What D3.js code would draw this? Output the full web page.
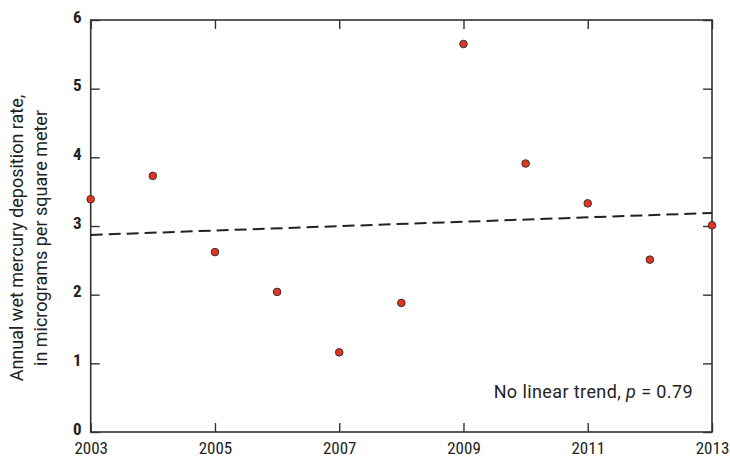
<!DOCTYPE html>
<html><head><meta charset="utf-8">
<script src="https://cdn.jsdelivr.net/npm/d3@7"></script>
<style>
body{margin:0;background:#fff;}
svg text{font-family:"Liberation Sans Narrow","Roboto Condensed","Arial Narrow",sans-serif;fill:#222;}
svg text.wide{font-family:Roboto,"Liberation Sans",sans-serif;}
</style></head>
<body>
<svg id="chart" width="730" height="456"></svg>
<script>
const years = [2003,2004,2005,2006,2007,2008,2009,2010,2011,2012,2013];
const deposition = [3.39,3.73,2.62,2.04,1.16,1.88,5.65,3.91,3.33,2.51,3.01];
const trendYears = [2003,2013];
const trendValues = [2.87,3.19];
const xTickValues = [2003,2005,2007,2009,2011,2013];
const yTickValues = [0,1,2,3,4,5,6];
const yTitle = ["Annual wet mercury deposition rate,","in micrograms per square meter"];
const note = "No linear trend, ";

const svg = d3.select("#chart");
const m = {left:90.7, right:712, top:20, bottom:432};
const x = d3.scaleLinear().domain([2003,2013]).range([m.left,m.right]);
const y = d3.scaleLinear().domain([0,6]).range([m.bottom,m.top]);
const ink = "#333";

// frame
svg.append("rect").attr("x",m.left).attr("y",m.top)
  .attr("width",m.right-m.left).attr("height",m.bottom-m.top)
  .attr("fill","none").attr("stroke",ink).attr("stroke-width",1.6);

// bottom axis
const gx = svg.append("g").attr("transform",`translate(0,${m.bottom})`)
  .call(d3.axisBottom(x).tickValues(xTickValues).tickFormat(d3.format("d")).tickSizeInner(-9).tickSizeOuter(0).tickPadding(10));
gx.select(".domain").remove();
gx.selectAll("line").attr("stroke",ink).attr("stroke-width",1.4);
gx.selectAll("text").attr("font-size",17).attr("fill","#222");

// top ticks
const gt = svg.append("g").attr("transform",`translate(0,${m.top})`)
  .call(d3.axisTop(x).tickValues(xTickValues).tickFormat("").tickSizeInner(-9).tickSizeOuter(0));
gt.select(".domain").remove();
gt.selectAll("line").attr("stroke",ink).attr("stroke-width",1.4);

// left axis
const gy = svg.append("g").attr("transform",`translate(${m.left},0)`)
  .call(d3.axisLeft(y).tickValues(yTickValues).tickFormat(d3.format("d")).tickSizeInner(-9).tickSizeOuter(0).tickPadding(9));
gy.select(".domain").remove();
gy.selectAll("line").attr("stroke",ink).attr("stroke-width",1.4);
gy.selectAll("text").attr("font-size",17).attr("font-weight","bold").attr("dy","0.12em").attr("fill","#222");

// right ticks
const gr = svg.append("g").attr("transform",`translate(${m.right},0)`)
  .call(d3.axisRight(y).tickValues(yTickValues).tickFormat("").tickSizeInner(-9).tickSizeOuter(0));
gr.select(".domain").remove();
gr.selectAll("line").attr("stroke",ink).attr("stroke-width",1.4);

// y title
const yt = svg.append("text").attr("class","wide").attr("transform","translate(23,238) rotate(-90)")
  .attr("text-anchor","middle").attr("font-size",18);
yt.selectAll("tspan").data(yTitle).join("tspan")
  .attr("x",0).attr("dy",(d,i)=>i===0?0:24).text(d=>d);

// trend line
svg.append("line")
  .attr("x1",x(trendYears[0])).attr("y1",y(trendValues[0]))
  .attr("x2",x(trendYears[1])).attr("y2",y(trendValues[1]))
  .attr("stroke","#222").attr("stroke-width",2).attr("stroke-dasharray","12,6");

// points
svg.append("g").selectAll("circle").data(years).join("circle")
  .attr("cx",(d)=>x(d)).attr("cy",(d,i)=>y(deposition[i])).attr("r",3.8)
  .attr("fill","#e8321e").attr("stroke","#333").attr("stroke-width",1);

// note
const nt = svg.append("text").attr("class","wide").attr("x",693).attr("y",398).attr("text-anchor","end")
  .attr("font-size",18).attr("letter-spacing","0.4px");
nt.append("tspan").text(note);
nt.append("tspan").attr("font-style","italic").text("p");
nt.append("tspan").text(" = 0.79");
</script>
</body></html>
